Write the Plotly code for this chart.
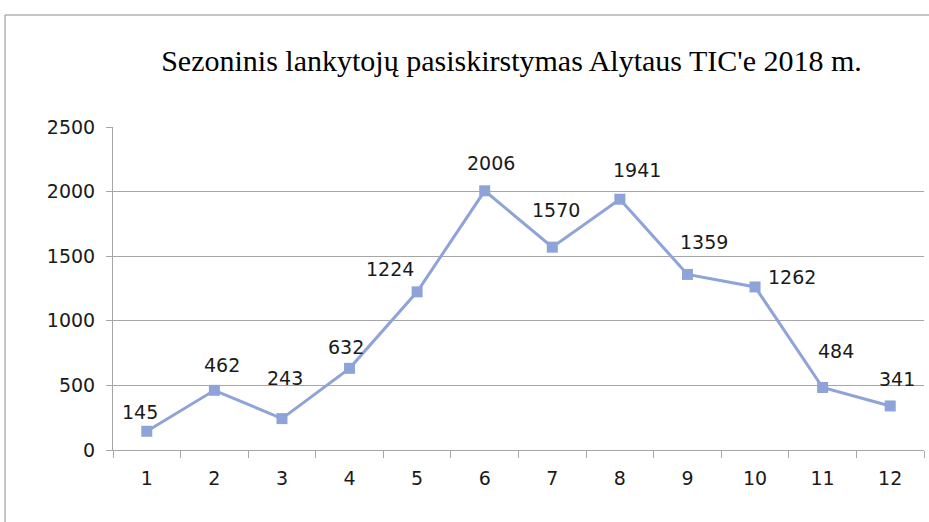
import plotly.graph_objects as go

months = ["1", "2", "3", "4", "5", "6", "7", "8", "9", "10", "11", "12"]
visitors = [145, 462, 243, 632, 1224, 2006, 1570, 1941, 1359, 1262, 484, 341]
title_text = "Sezoninis lankytojų pasiskirstymas Alytaus TIC'e 2018 m."

# label offsets in pixels (style)
label_dx = [-7, 8, 3, -4, -27, 6, 4, 17, 17, 37, 13, 7]
label_dy = [19, 25, 41, 21, 23, 28, 37, 29, 32, 10, 36, 27]

W, H = 929, 522
L, R, T, B = 113, 5, 127, 72
pw = W - L - R
ph = H - T - B

def px(x):
    return (x - L) / pw

def py(y):
    return (H - B - y) / ph

color = "#8EA3D8"
grid = "#A6A6A6"
tick_font = dict(family="DejaVu Sans", size=19, color="#1a1a1a")

fig = go.Figure()
fig.add_trace(go.Scatter(
    x=months, y=visitors, mode="lines+markers",
    line=dict(color=color, width=3),
    marker=dict(symbol="square", size=11, color=color),
    hoverinfo="skip", showlegend=False,
))

for i, (v, dx, dy) in enumerate(zip(visitors, label_dx, label_dy)):
    fig.add_annotation(x=i, y=v, text=str(v), showarrow=False,
                       xshift=dx, yshift=dy, font=tick_font,
                       xanchor="center", yanchor="middle")

fig.add_shape(type="path", xref="paper", yref="paper",
              path=f"M {px(5)},{py(540)} L {px(5)},{py(15)} L {px(940)},{py(15)}",
              line=dict(color="#8C8C8C", width=1))

fig.update_layout(
    width=W, height=H,
    margin=dict(l=L, r=R, t=T, b=B, pad=0),
    paper_bgcolor="white", plot_bgcolor="white",
    title=dict(text=title_text, x=px(511.5), xref="paper", xanchor="center",
               y=1 - 60 / H, yref="container", yanchor="middle",
               font=dict(family="Liberation Serif", size=30, color="#000000")),
    xaxis=dict(type="category", showline=True, linecolor=grid, linewidth=1,
               ticks="outside", ticklen=7, tickcolor=grid, tickson="boundaries",
               showgrid=False, tickfont=tick_font, ticklabelstandoff=11,
               range=[-0.5, 11.5]),
    yaxis=dict(range=[0, 2500], dtick=500, showline=True, linecolor=grid,
               linewidth=1, ticks="outside", ticklen=6, tickcolor=grid,
               showgrid=True, gridcolor=grid, gridwidth=1, zeroline=False,
               tickfont=tick_font, ticklabelstandoff=7),
)

fig.write_html("out.html", config={"displayModeBar": False},
               post_script="document.body.style.margin='0';")
